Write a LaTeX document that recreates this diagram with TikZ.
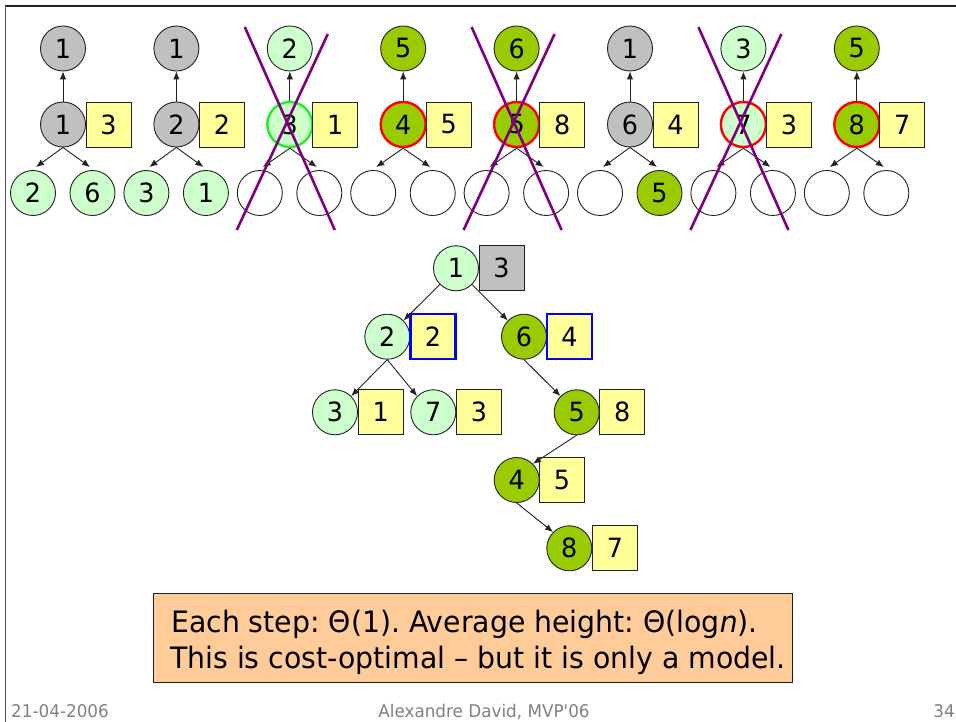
\documentclass[tikz,border=0pt]{standalone}
\usepackage{fontspec}
\setmainfont{DejaVu Sans}[FakeStretch=0.96]
% same face without the TeX quote mapping, so ' stays a straight apostrophe
\newfontfamily\plainfont{DejaVu Sans}[FakeStretch=0.96]
\usetikzlibrary{arrows.meta,calc}
\frenchspacing

\definecolor{greyfill}{HTML}{C0C0C0}
\definecolor{mintfill}{HTML}{CCFFCC}
\definecolor{leaffill}{HTML}{99CC00}
\definecolor{notefill}{HTML}{FFFF99}
\definecolor{peachfill}{HTML}{FFCC99}
\definecolor{crossviolet}{HTML}{800080}
\definecolor{footgrey}{HTML}{808080}
\definecolor{freshgreen}{HTML}{22EE22}
\definecolor{edgeink}{HTML}{222222}

\newcommand\digitfont{\fontsize{26.5}{30}\selectfont}
\newcommand\notefont{\fontsize{29.5}{36}\selectfont}
\newcommand\footfont{\plainfont\fontsize{17.5}{20}\selectfont}

\tikzset{
  vert/.style={circle, draw=edgeink, line width=0.9pt, minimum size=45pt,
               inner sep=0pt, font=\digitfont},
  greyv/.style={vert, fill=greyfill},
  mintv/.style={vert, fill=mintfill},
  leafv/.style={vert, fill=leaffill},
  emptyv/.style={vert, fill=white},
  hot/.style={draw=red, line width=2.4pt},
  fresh/.style={draw=freshgreen, line width=2.4pt},
  tag/.style={rectangle, draw=edgeink, line width=0.9pt, fill=notefill,
              minimum size=45pt, inner sep=0pt, font=\digitfont},
  greytag/.style={tag, fill=greyfill},
  bluetag/.style={tag, draw=blue, line width=2.4pt},
  link/.style={-{Latex[length=8pt,width=6.5pt]}, line width=0.9pt, edgeink},
  strike/.style={crossviolet, line width=2.6pt},
  notebox/.style={rectangle, draw=edgeink, line width=0.9pt, fill=peachfill,
                  inner sep=0pt},
  notetext/.style={inner sep=0pt, font=\notefont, anchor=base west},
  foot/.style={inner sep=0pt, font=\footfont, text=footgrey},
}

\begin{document}
\begin{tikzpicture}[x=1pt, y=-1pt]
\useasboundingbox (0,0) rectangle (956,722);

% slide frame
\draw[line width=2pt, edgeink] (5,6) -- (956,6);
\draw[line width=1.3pt, black!65] (5.5,6) -- (5.5,722);

% ---- row of local steps: parent, node with its value, two children ----
% step 1
\node[greyv] (t1) at (63,48.5) {1};
\node[greyv] (m1) at (63,124.5) {1};
\node[tag]   (b1) at (108.5,124.5) {3};
\node[mintv] (l1) at (33,193) {2};
\node[mintv] (r1) at (92.5,193) {6};
% step 2
\node[greyv] (t2) at (176.4,48.5) {1};
\node[greyv] (m2) at (176.4,124.5) {2};
\node[tag]   (b2) at (221.9,124.5) {2};
\node[mintv] (l2) at (146.4,193) {3};
\node[mintv] (r2) at (205.9,193) {1};
% step 3
\node[mintv] (t3) at (289.8,48.5) {2};
\node[mintv, fresh] (m3) at (289.8,124.5) {3};
\node[tag]   (b3) at (335.3,124.5) {1};
\node[emptyv] (l3) at (259.8,193) {};
\node[emptyv] (r3) at (319.3,193) {};
% step 4
\node[leafv] (t4) at (403.2,48.5) {5};
\node[leafv, hot] (m4) at (403.2,124.5) {4};
\node[tag]   (b4) at (448.7,124.5) {5};
\node[emptyv] (l4) at (373.2,193) {};
\node[emptyv] (r4) at (432.7,193) {};
% step 5
\node[leafv] (t5) at (516.6,48.5) {6};
\node[leafv, hot] (m5) at (516.6,124.5) {5};
\node[tag]   (b5) at (562.1,124.5) {8};
\node[emptyv] (l5) at (486.6,193) {};
\node[emptyv] (r5) at (546.1,193) {};
% step 6
\node[greyv] (t6) at (630,48.5) {1};
\node[greyv] (m6) at (630,124.5) {6};
\node[tag]   (b6) at (675.5,124.5) {4};
\node[emptyv] (l6) at (600,193) {};
\node[leafv] (r6) at (659.5,193) {5};
% step 7
\node[mintv] (t7) at (743.4,48.5) {3};
\node[mintv, hot] (m7) at (743.4,124.5) {7};
\node[tag]   (b7) at (788.9,124.5) {3};
\node[emptyv] (l7) at (713.4,193) {};
\node[emptyv] (r7) at (772.9,193) {};
% step 8
\node[leafv] (t8) at (856.8,48.5) {5};
\node[leafv, hot] (m8) at (856.8,124.5) {8};
\node[tag]   (b8) at (902.3,124.5) {7};
\node[emptyv] (l8) at (826.8,193) {};
\node[emptyv] (r8) at (886.3,193) {};

\foreach \k in {1,...,8} {
  \draw[link] (m\k.north) -- (t\k.south);
  \draw[link] (m\k.south) -- ($(l\k)+(3,-26)$);
  \draw[link] (m\k.south) -- ($(r\k)+(-2.5,-26)$);
}

% rejected steps are crossed out
\draw[strike] (244.8,27) -- (334.8,230);
\draw[strike] (327.8,34) -- (236.8,230);
\draw[strike] (471.6,27) -- (561.6,230);
\draw[strike] (554.6,34) -- (463.6,230);
\draw[strike] (698.4,27) -- (788.4,230);
\draw[strike] (781.4,34) -- (690.4,230);

% ---- resulting tree ----
\node[mintv] (n1) at (456,268.3) {1};
\node[greytag] (v1) at (501.5,268.3) {3};
\node[mintv] (n2) at (387.3,336.7) {2};
\node[bluetag] (v2) at (433,336.7) {2};
\node[leafv] (n6) at (524,336.7) {6};
\node[bluetag] (v6) at (569.5,336.7) {4};
\node[mintv] (n3) at (335,412.3) {3};
\node[tag] (v3) at (380.8,412.3) {1};
\node[mintv] (n7) at (433.3,412.3) {7};
\node[tag] (v7) at (479,412.3) {3};
\node[leafv] (n5) at (576.7,412.3) {5};
\node[tag] (v5) at (622.3,412.3) {8};
\node[leafv] (n4) at (516.7,480) {4};
\node[tag] (v4) at (562,480) {5};
\node[leafv] (n8) at (569.3,548.3) {8};
\node[tag] (v8) at (615,548.3) {7};

\draw[link] (n1) -- (n2);
\draw[link] (n1) -- (n6);
\draw[link] (n2.south) -- (n3.north east);
\draw[link] (n2.south) -- (n7.north west);
\draw[link] (n6.south) -- (n5.north west);
\draw[link] (n5.south) -- (n4.north east);
\draw[link] (n4.south) -- (n8.north west);

% ---- note ----
\node[notebox, anchor=north west, minimum width=638.5pt, minimum height=88.4pt]
  (note) at (153,593.3) {};
\node[notetext] (noteA) at (171,632.3) {Each step: Θ(1). Average height: Θ(log\textit{n}).};
\node[notetext] (noteB) at (170,668.3) {This is cost-optimal – but it is only a model.};

% ---- footer ----
\node[foot, anchor=base west] (date) at (11,717) {21-04-2006};
\node[foot, anchor=base] (author) at (484,717) {Alexandre David, MVP'06};
\node[foot, anchor=base east] (page) at (955,717) {34};
\end{tikzpicture}
\end{document}
